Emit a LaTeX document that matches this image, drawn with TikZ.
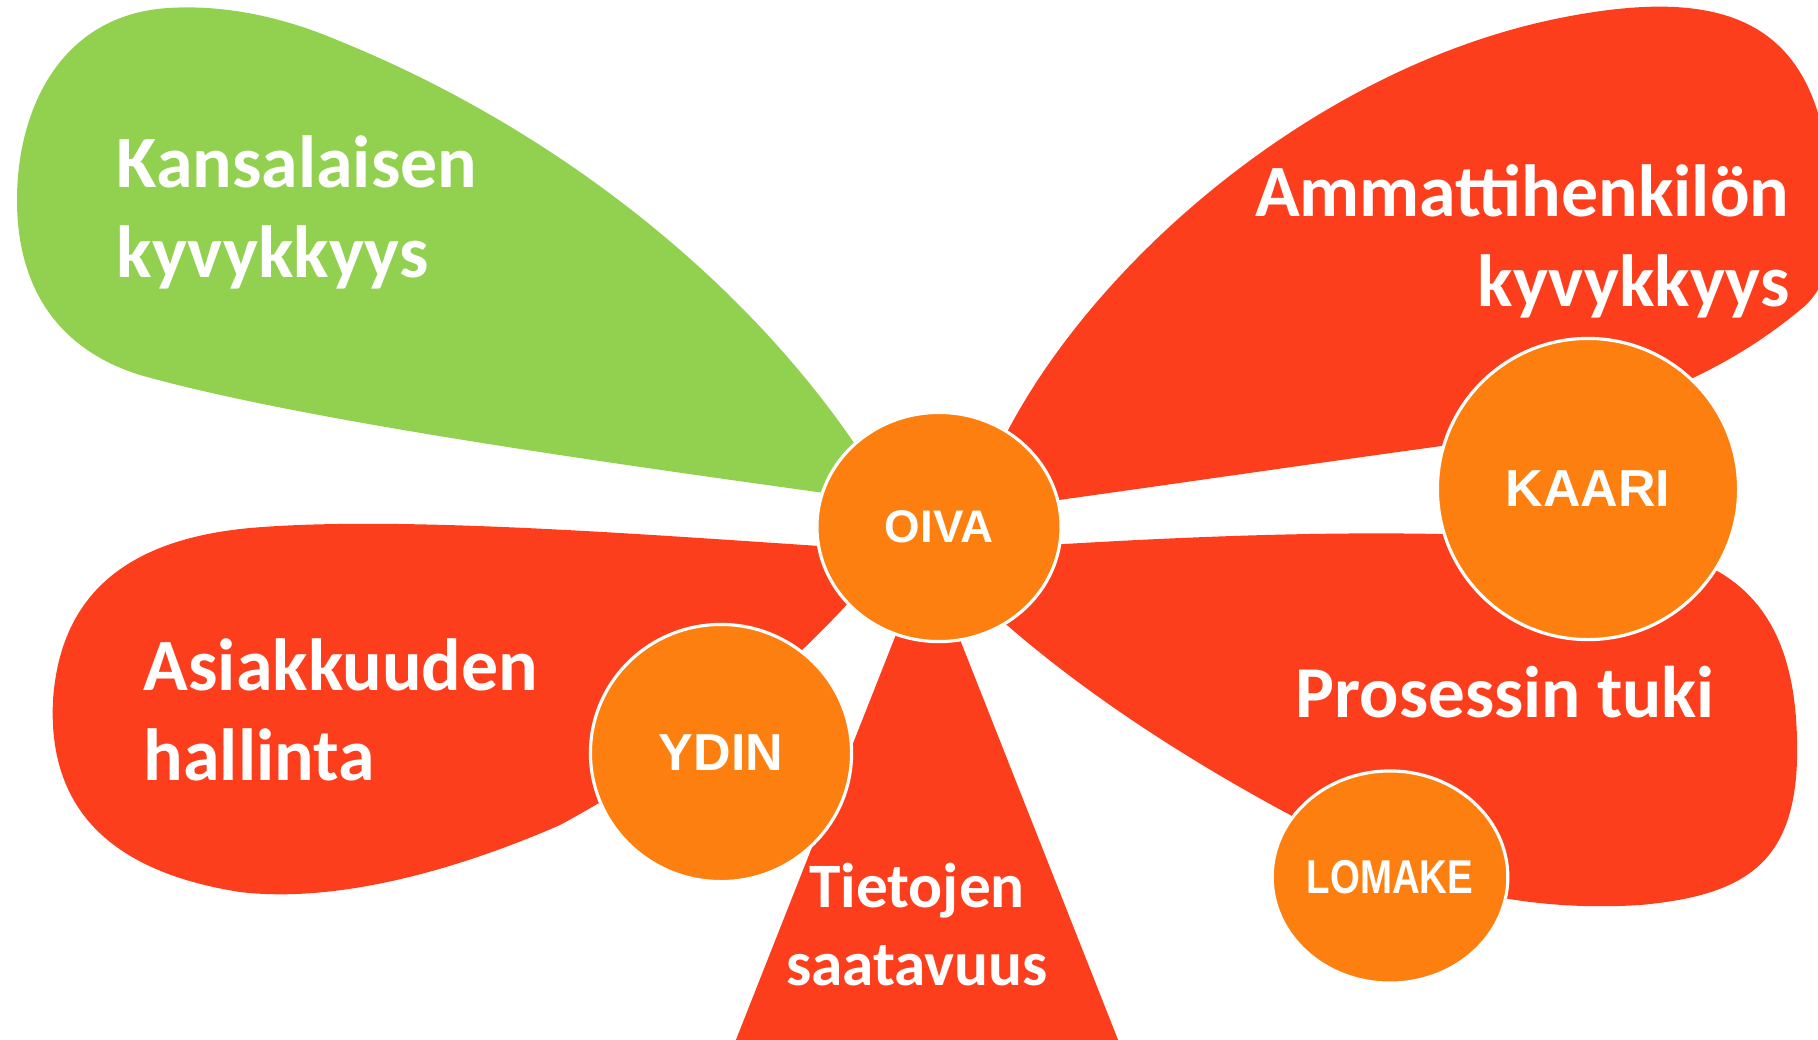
\documentclass[tikz,border=0pt]{standalone}
\usepackage{fontspec}
\setmainfont{Carlito}
\newfontfamily\arialfont{Liberation Sans}
\usetikzlibrary{shapes.geometric}

\definecolor{leafgreen}{HTML}{92D050}
\definecolor{leafred}{HTML}{FD3E1D}
\definecolor{huborange}{HTML}{FD7F10}

\begin{document}
\begin{tikzpicture}[x=0.01cm, y=-0.01cm,
  leaftext/.style={text=white, inner sep=0pt, font=\bfseries\fontsize{21}{25.5}\selectfont},
  hub/.style={ellipse, draw=white, line width=0.9pt, fill=huborange, text=white, inner sep=0pt, font=\arialfont\bfseries}]
\clip (0,0) rectangle (1818,1039);

% vihreä lehti
\fill[leafgreen] (875,500) .. controls (600,462) and (300,420) .. (140,375)
  .. controls (60,350) and (17,290) .. (17,200)
  .. controls (17,110) and (60,15) .. (168,8)
  .. controls (230,4) and (290,20) .. (337,40)
  .. controls (560,130) and (760,290) .. (875,475) -- cycle;
% punaiset lehdet
\fill[leafred] (985,480) .. controls (1060,290) and (1300,70) .. (1560,18)
  .. controls (1700,-10) and (1790,10) .. (1820,120)
  .. controls (1845,200) and (1840,280) .. (1800,310)
  .. controls (1740,360) and (1650,410) .. (1500,438)
  .. controls (1300,465) and (1100,495) .. (985,510) -- cycle;
\fill[leafred] (1000,548) .. controls (1200,535) and (1500,520) .. (1680,555)
  .. controls (1760,580) and (1795,640) .. (1797,740)
  .. controls (1800,860) and (1750,895) .. (1640,905)
  .. controls (1560,910) and (1480,900) .. (1400,870)
  .. controls (1250,800) and (1100,710) .. (990,610) -- cycle;
\fill[leafred] (850,548) .. controls (650,535) and (400,515) .. (250,528)
  .. controls (120,540) and (60,600) .. (53,700)
  .. controls (48,800) and (100,870) .. (240,892)
  .. controls (350,905) and (480,860) .. (560,825)
  .. controls (680,760) and (780,680) .. (860,590) -- cycle;
\fill[leafred] (927,556) -- (728,1060) -- (1126,1060) -- cycle;

% tekstit
\node[leaftext, anchor=base west, align=left] (kansalainen) at (116,277) {Kansalaisen\\kyvykkyys};
\node[leaftext, anchor=base east, align=right] (ammattilainen) at (1790,306) {Ammattihenkilön\\kyvykkyys};
\node[leaftext, anchor=base west, align=left] (asiakkuus) at (143,780) {Asiakkuuden\\hallinta};
\node[leaftext, anchor=base west, font=\bfseries\fontsize{20.8}{25}\selectfont] (prosessi) at (1295,717) {Prosessin tuki};
\node[leaftext, anchor=base, align=center, font=\bfseries\fontsize{18}{22}\selectfont] (tietojen) at (917,985) {Tietojen\\saatavuus};

% ympyrät
\node[hub, minimum width=2.44cm, minimum height=2.29cm, font=\arialfont\bfseries\fontsize{13}{15}\selectfont] (oiva) at (939,527) {OIVA};
\node[hub, minimum width=3.01cm, minimum height=3.01cm, font=\arialfont\bfseries\fontsize{14.8}{17}\selectfont] (kaari) at (1588,489) {KAARI};
\node[hub, minimum width=2.61cm, minimum height=2.57cm, font=\arialfont\bfseries\fontsize{14.8}{17}\selectfont] (ydin) at (721,753) {YDIN};
\node[hub, minimum width=2.29cm, minimum height=2.12cm, font=\arialfont\bfseries\fontsize{13.5}{16}\selectfont] (lomake) at (1390,877) {\scalebox{0.81}[1]{LOMAKE}};
\end{tikzpicture}
\end{document}
